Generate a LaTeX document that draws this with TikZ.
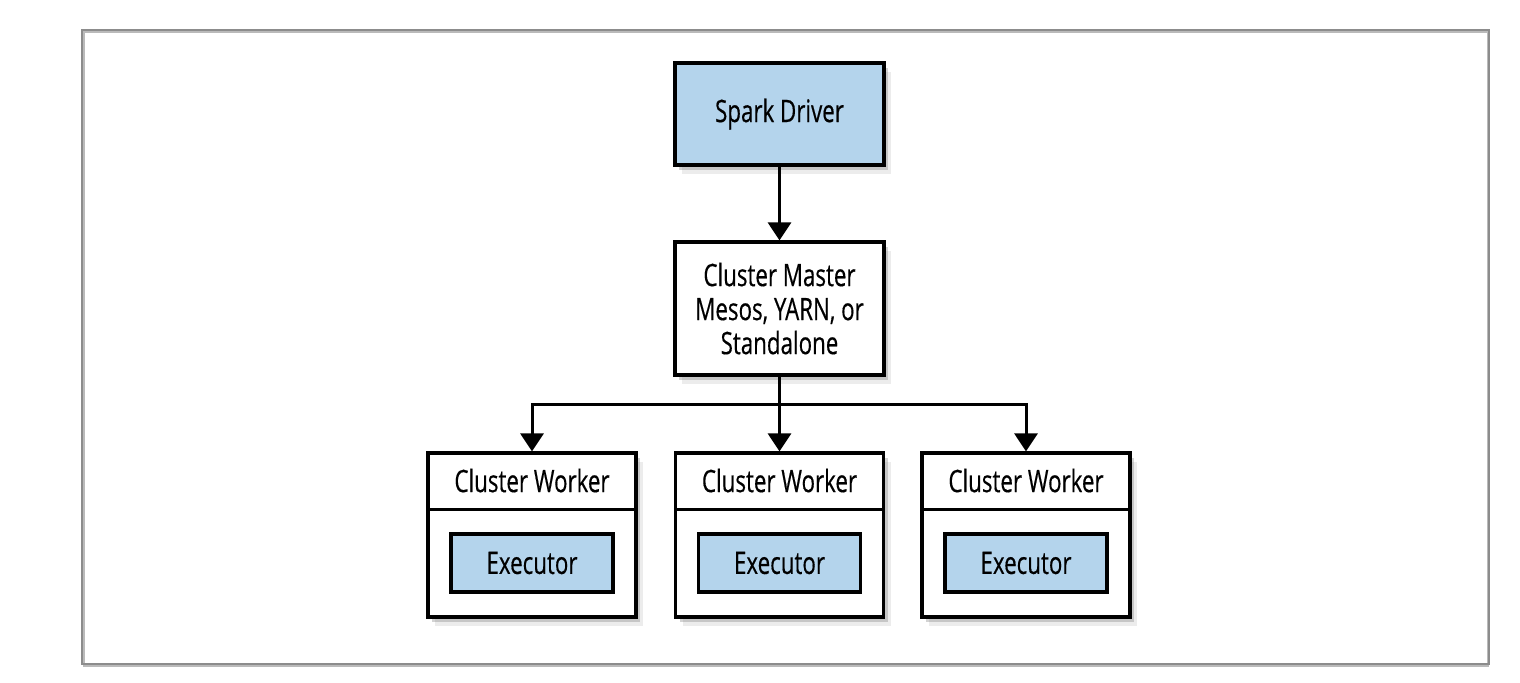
\documentclass[tikz,border=0pt]{standalone}
\usepackage{fontspec}
\setmainfont[FakeStretch=0.72,FakeBold=0.4]{Open Sans}
\usetikzlibrary{arrows.meta,shadows}
\definecolor{boxblue}{RGB}{180,212,236}
\definecolor{framegray}{RGB}{140,140,140}
\tikzset{every picture/.style={line width=1.5pt}}
\tikzset{
	box/.style={draw=black, line width=1.6pt, inner sep=0pt, align=center, font=\fontsize{15.5}{17}\selectfont},
	shade box/.style={drop shadow={shadow xshift=3.5pt, shadow yshift=-4.5pt, opacity=0.15},
		drop shadow={shadow xshift=2pt, shadow yshift=-2.5pt, opacity=0.35}},
	flow/.style={-{Triangle[width=11.5pt,length=9pt]}, line width=1.5pt}}

\begin{document}
\begin{tikzpicture}[x=0.5pt,y=0.5pt,yscale=-1,xscale=1]
	\useasboundingbox (0,0) rectangle (1520,682);

	%Outer frame
	\draw [color=framegray!60, line width=1pt] (83.5,31.5) rectangle (1487.5,665.5);
	\draw [color=framegray, line width=1pt] (82,30) rectangle (1489,664);

	%Driver and master
	\node [box, shade box, fill=boxblue, minimum width=104.5pt, minimum height=51pt] (driver) at (779.5,114) {Spark Driver};
	\node [box, shade box, fill=white, minimum width=104.5pt, minimum height=66.5pt] (master) at (779.5,308.5) {Cluster Master\\Mesos, YARN, or\\Standalone};

	%Workers with executors
	\foreach \i/\x in {1/532,2/779.5,3/1026}{
		\node [box, shade box, fill=white, minimum width=104pt, minimum height=82pt] (worker\i) at (\x,535) {};
		\node [box, draw=none, anchor=north, minimum height=27.5pt] (wlabel\i) at (worker\i.north) {Cluster Worker};
		\draw [line width=1.6pt] (worker\i.west |- wlabel\i.south) -- (worker\i.east |- wlabel\i.south);
		\node [box, fill=boxblue, minimum width=81pt, minimum height=29pt] (exec\i) at (\x,563) {Executor};
	}

	%Straight Lines
	\coordinate (split) at (779.5,404);
	\draw [flow] (driver.south) -- (master.north);
	\draw [flow] (master.south) -- (worker2.north);
	\draw [flow] (split) -| (worker1.north);
	\draw [flow] (split) -| (worker3.north);

\end{tikzpicture}
\end{document}
